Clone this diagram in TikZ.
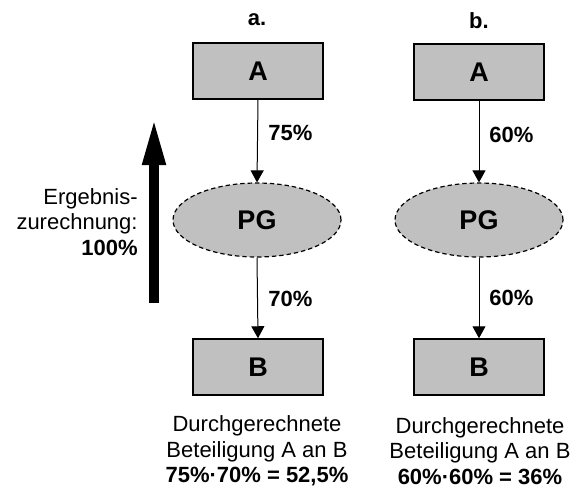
\documentclass[tikz,border=0pt]{standalone}
\usepackage{fontspec}
\setmainfont{Liberation Sans}
\usetikzlibrary{shapes.geometric,arrows.meta}
\definecolor{boxgrey}{HTML}{C0C0C0}
\tikzset{
  x=0.5pt, y=-0.5pt,
  entity/.style={draw=black, line width=0.75pt, fill=boxgrey, rectangle,
    minimum width=65pt, minimum height=28pt, inner sep=0pt,
    font=\fontsize{13.5}{16}\selectfont\bfseries},
  group/.style={draw=black, dashed, dash pattern=on 2.2pt off 1.5pt, line width=0.6pt,
    fill=boxgrey, ellipse, minimum width=84pt, minimum height=37pt, inner sep=0pt,
    font=\fontsize{13.5}{16}\selectfont\bfseries},
  share/.style={-{Triangle[width=6.5pt,length=6pt]}, line width=0.5pt},
  pct/.style={anchor=west, font=\fontsize{11}{13}\selectfont\bfseries, inner sep=0pt},
  heading/.style={font=\fontsize{11}{13}\selectfont\bfseries, inner sep=0pt},
  note/.style={align=center, font=\fontsize{11}{12.75}\selectfont, inner sep=0pt},
}
\begin{document}
\begin{tikzpicture}
\useasboundingbox (0,0) rectangle (585,488);

% case a
\node[heading] (ta) at (257,20) {a.};
\node[entity] (A1) at (258,71) {A};
\node[group] (PG1) at (257,220) {PG};
\node[entity] (B1) at (258,367) {B};
\draw[share] (A1.south) -- (PG1.north);
\draw[share] (PG1.south) -- (B1.north);
\node[pct] (p1) at (268,133) {75\%};
\node[pct] (p2) at (268,299) {70\%};
\node[note] (n1) at (257,451) {Durchgerechnete\\Beteiligung A an B\\\textbf{75\%·70\% = 52,5\%}};

% case b
\node[heading] (tb) at (479,21) {b.};
\node[entity] (A2) at (479,72) {A};
\node[group] (PG2) at (479,220) {PG};
\node[entity] (B2) at (479,367) {B};
\draw[share] (A2.south) -- (PG2.north);
\draw[share] (PG2.south) -- (B2.north);
\node[pct] (p3) at (489,135) {60\%};
\node[pct] (p4) at (489,298) {60\%};
\node[note] (n2) at (480,451) {Durchgerechnete\\Beteiligung A an B\\\textbf{60\%·60\% = 36\%}};

% profit attribution arrow
\coordinate (up0) at (154,303);
\coordinate (up1) at (154,117);
\draw[line width=5pt, -{Triangle[length=24pt,width=10.5pt]}] (up0) -- (up1);
\node[note, align=right, anchor=east] (res) at (138,222) {Ergebnis-\\zurechnung:\\\textbf{100\%}};
\end{tikzpicture}
\end{document}
